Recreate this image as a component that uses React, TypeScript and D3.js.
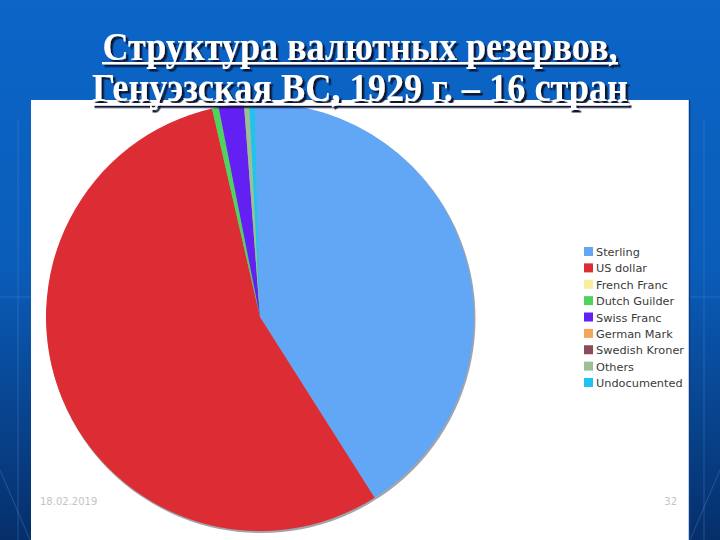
import React from "react";
import * as d3 from "d3";

const categories = ["Sterling", "US dollar", "French Franc", "Dutch Guilder", "Swiss Franc", "German Mark", "Swedish Kroner", "Others", "Undocumented"];
const shares = [41.4, 55.4, 0, 0.5, 1.9, 0, 0, 0.4, 0.4];
const colors = ["#62a6f6", "#db2d33", "#f7eea0", "#4fd35c", "#6220f2", "#f4a65c", "#8c4b5c", "#9cbf95", "#1fc3f0"];
const titleLines = ["Структура валютных резервов,", "Генуэзская ВС, 1929 г. – 16 стран"];
const footerDate = "18.02.2019";
const footerPage = "32";

export default function App() {
  const W = 720, H = 540;
  const cx = 260, cy = 317, r = 214;
  const data = categories.map((c, i) => ({ name: c, value: shares[i], color: colors[i] }));
  const pie = d3.pie<any>().value((d: any) => d.value).sort(null)
    .startAngle(-0.025).endAngle(2 * Math.PI - 0.025);
  const arcs = pie(data);
  const arc = d3.arc<any>().innerRadius(0).outerRadius(r);
  const legendY = d3.scalePoint<string>().domain(categories).range([252, 383]);

  return (
    <svg width={W} height={H} style={{ position: "fixed", left: 0, top: 0, display: "block" }}>
      <defs>
        <linearGradient id="bg" x1="0" y1="0" x2="0" y2="1">
          <stop offset="0" stopColor="#0b66c8" />
          <stop offset="0.5" stopColor="#0a5cb8" />
          <stop offset="1" stopColor="#062f6a" />
        </linearGradient>
        <filter id="ts" x="-5%" y="-20%" width="110%" height="140%">
          <feDropShadow dx="2.5" dy="2.5" stdDeviation="0.5" floodColor="#081530" floodOpacity="1" />
        </filter>
      </defs>
      <rect x={0} y={0} width={W} height={H} fill="url(#bg)" />
      <g stroke="#5b93d8" strokeOpacity={0.35} strokeWidth={1}>
        <line x1={0} y1={297} x2={W} y2={297} />
        <line x1={18} y1={120} x2={18} y2={H} />
        <line x1={704} y1={120} x2={704} y2={H} />
        <line x1={0} y1={470} x2={30} y2={540} />
        <line x1={720} y1={470} x2={690} y2={540} />
      </g>
      <rect x={31} y={100} width={658} height={H - 100} fill="#ffffff" />
      <line x1={689.5} y1={100} x2={689.5} y2={H} stroke="#0a3f86" strokeWidth={1.5} />
      <circle cx={cx + 1} cy={cy + 1.5} r={r + 0.5} fill="#8a8f96" opacity={0.8} />
      <g transform={`translate(${cx},${cy})`}>
        {arcs.map((a, i) => (
          <path key={i} d={arc(a) as string} fill={a.data.color} />
        ))}
      </g>
      <g fontFamily="'DejaVu Sans', Verdana, sans-serif" fontSize={11.3} fill="#3a3a3a">
        {categories.map((c, i) => (
          <g key={c} transform={`translate(584,${legendY(c)})`}>
            <rect x={0} y={-5} width={9} height={9} fill={colors[i]} />
            <text x={12} y={4} textLength={c === "Swedish Kroner" ? 88 : undefined}>{c}</text>
          </g>
        ))}
      </g>
      <g fontFamily="'DejaVu Sans', sans-serif" fontSize={10} fill="#c4c4c4">
        <text x={40} y={505}>{footerDate}</text>
        <text x={677} y={505} textAnchor="end">{footerPage}</text>
      </g>
      <g fontFamily="'Liberation Serif', 'Times New Roman', serif" fontSize={39} fontWeight="bold" fill="#ffffff" filter="url(#ts)">
        <text x={360} y={60} textAnchor="middle" textLength={515} lengthAdjust="spacingAndGlyphs">{titleLines[0]}</text>
        <rect x={102} y={62} width={516} height={2.4} fill="#ffffff" />
        <text x={360} y={101} textAnchor="middle" textLength={536} lengthAdjust="spacingAndGlyphs">{titleLines[1]}</text>
        <rect x={92} y={103} width={537} height={2.4} fill="#ffffff" />
      </g>
    </svg>
  );
}
